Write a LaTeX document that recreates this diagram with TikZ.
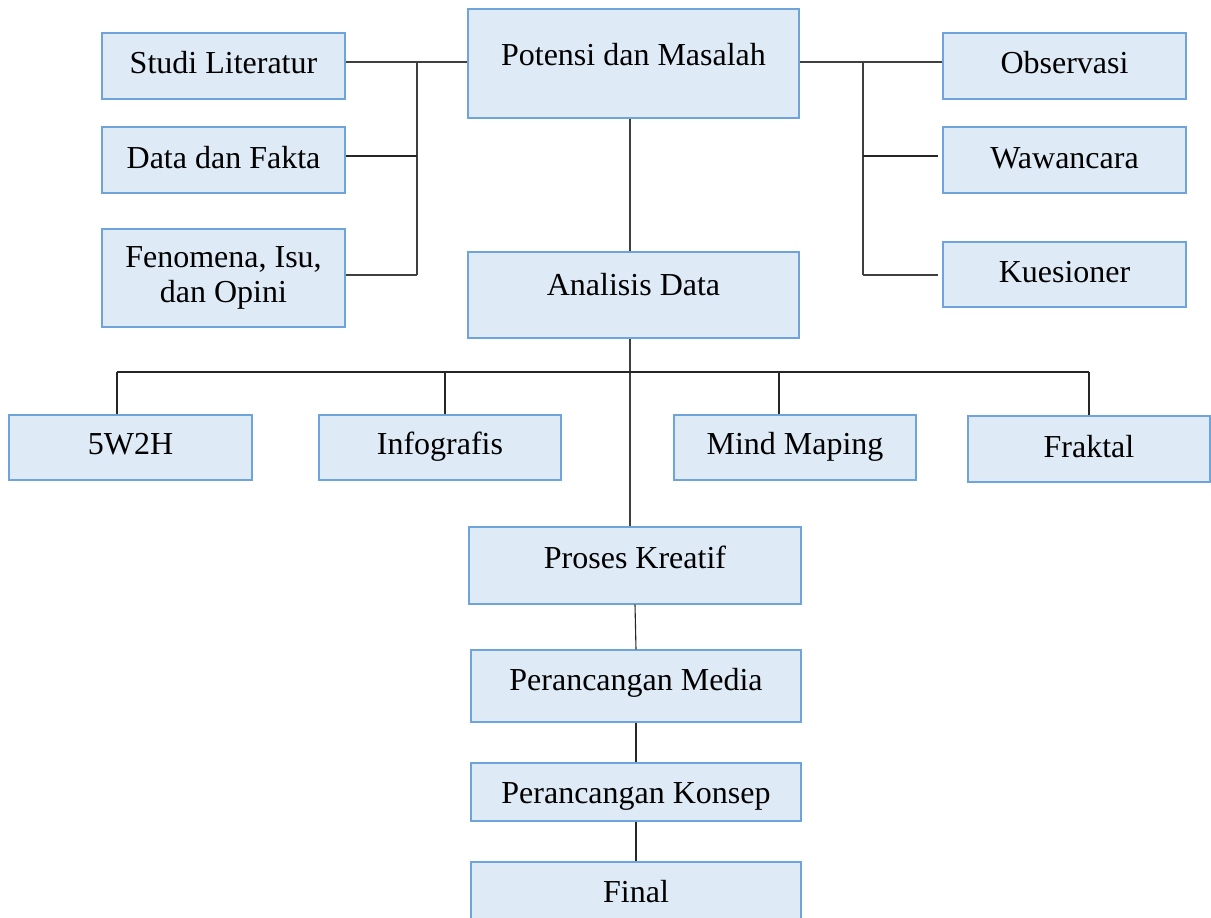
\documentclass[tikz,border=0pt]{standalone}
\usepackage{fontspec}
\setmainfont{Liberation Serif}
\definecolor{boxfill}{HTML}{DEEAF6}
\definecolor{boxline}{HTML}{6FA3DB}
\definecolor{linegray}{HTML}{3F3F3F}
\begin{document}
\begin{tikzpicture}[x=1pt,y=-1pt,
  box/.style={draw=boxline,fill=boxfill,line width=1.2pt,inner sep=0pt,
    font=\fontsize{32}{35}\selectfont,text=black,align=center},
  tb/.style 2 args={text height=#1,text depth=#2},
  conn/.style={draw=linegray,line width=1.6pt},
  connthin/.style={draw=black!85,line width=1.1pt}]
\clip (0,0) rectangle (1211,918);
\fill[white] (0,0) rectangle (1211,918);
% boxes
\node[box,minimum width=243pt,minimum height=66pt,tb={22pt}{8pt}] (studi) at (223.5,66) {Studi Literatur};
\node[box,minimum width=243pt,minimum height=66pt,tb={23pt}{7pt}] (data) at (223.5,160) {Data dan Fakta};
\node[box,minimum width=243pt,minimum height=98pt] (fen) at (223.5,278) {Fenomena, Isu,\\dan Opini};
\node[box,minimum width=331pt,minimum height=109pt,tb={16.5pt}{13.5pt}] (pot) at (633.5,63.5) {Potensi dan Masalah};
\node[box,minimum width=243pt,minimum height=66pt,tb={22pt}{8pt}] (obs) at (1064.5,66) {Observasi};
\node[box,minimum width=243pt,minimum height=66pt,tb={23pt}{7pt}] (waw) at (1064.5,160) {Wawancara};
\node[box,minimum width=243pt,minimum height=65pt,tb={22.5pt}{7.5pt}] (kue) at (1064.5,274.5) {Kuesioner};
\node[box,minimum width=331pt,minimum height=86pt,tb={15pt}{15pt}] (ana) at (633.5,295) {Analisis Data};
\node[box,minimum width=243pt,minimum height=65pt,tb={21.5pt}{8.5pt}] (w5) at (130.5,447.5) {5W2H};
\node[box,minimum width=242pt,minimum height=65pt,tb={21.5pt}{8.5pt}] (info) at (440,447.5) {Infografis};
\node[box,minimum width=242pt,minimum height=65pt,tb={21.5pt}{8.5pt}] (mind) at (795,447.5) {Mind Maping};
\node[box,minimum width=242pt,minimum height=66pt,tb={23pt}{7pt}] (frak) at (1089,449) {Fraktal};
\node[box,minimum width=332pt,minimum height=77pt,tb={17.5pt}{12.5pt}] (pk) at (635,565.5) {Proses Kreatif};
\node[box,minimum width=330pt,minimum height=72pt,tb={19pt}{11pt}] (pm) at (636,686) {Perancangan Media};
\node[box,minimum width=330pt,minimum height=58pt,tb={26pt}{4pt}] (pkon) at (636,792) {Perancangan Konsep};
\node[box,minimum width=330pt,minimum height=80pt,tb={15pt}{15pt}] (fin) at (636,902) {Final};
% helper coordinates
\coordinate (lbtop) at (417,62);
\coordinate (lbmid) at (417,156);
\coordinate (lbbot) at (417,275);
\coordinate (rbtop) at (863,62);
\coordinate (rbmid) at (863,156);
\coordinate (rbbot) at (863,275);
\coordinate (mainx) at (630,0);
\coordinate (busL) at (117,372);
\coordinate (busI) at (445,372);
\coordinate (busC) at (630,372);
\coordinate (busM) at (779,372);
\coordinate (busR) at (1089,372);
% left group
\draw[conn] (studi.east |- lbtop) -- (pot.west |- lbtop);
\draw[conn] (lbtop) -- (lbbot);
\draw[connthin] (data.east |- lbmid) -- (lbmid);
\draw[conn] (fen.east |- lbbot) -- (lbbot);
% right group
\draw[conn] (pot.east |- rbtop) -- (obs.west |- rbtop);
\draw[conn] (rbtop) -- (rbbot);
\draw[connthin] (rbmid) -- ([xshift=-4pt]waw.west |- rbmid);
\draw[conn] (rbbot) -- ([xshift=-4pt]kue.west |- rbbot);
% centre
\draw[conn] (pot.south -| mainx) -- (ana.north -| mainx);
\draw[conn] (ana.south -| mainx) -- (pk.north -| mainx);
\draw[connthin] (busL) -- (busR);
\draw[connthin] (busL) -- (w5.north -| busL);
\draw[connthin] (busI) -- (info.north -| busI);
\draw[connthin] (busM) -- (mind.north -| busM);
\draw[connthin] (busR) -- (frak.north -| busR);
\draw[connthin] (pk.south) -- (pm.north);
\draw[connthin] (pm.south) -- (pkon.north);
\draw[connthin] (pkon.south) -- (fin.north);
\end{tikzpicture}
\end{document}
